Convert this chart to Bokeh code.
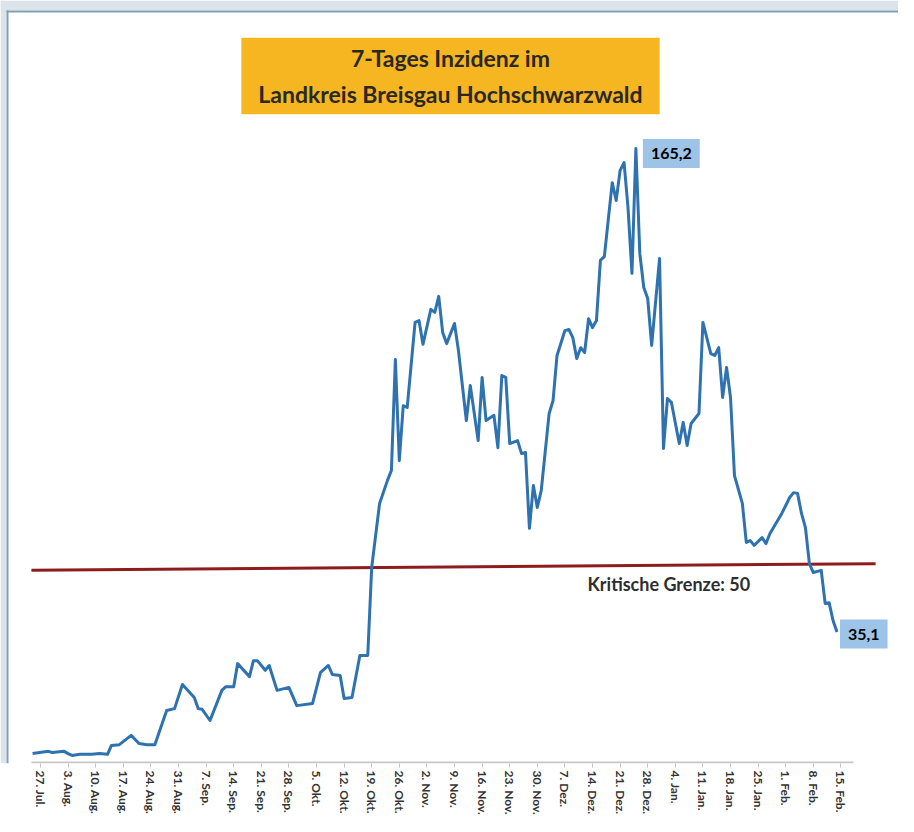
from bokeh.plotting import figure
from bokeh.models import Range1d, FixedTicker, Label, BoxAnnotation
from bokeh.embed import file_html
from bokeh.resources import INLINE

TITLE = "7-Tages Inzidenz im\nLandkreis Breisgau Hochschwarzwald"

TICK_LABELS = ["27. Jul.", "3. Aug.", "10. Aug.", "17. Aug.", "24. Aug.", "31. Aug.",
               "7. Sep.", "14. Sep.", "21. Sep.", "28. Sep.", "5. Okt.", "12. Okt.",
               "19. Okt.", "26. Okt.", "2. Nov.", "9. Nov.", "16. Nov.", "23. Nov.",
               "30. Nov.", "7. Dez.", "14. Dez.", "21. Dez.", "28. Dez.", "4. Jan.",
               "11. Jan.", "18. Jan.", "25. Jan.", "1. Feb.", "8. Feb.", "15. Feb."]

# days since 27 July 2020
DAYS = [-2, 2, 3, 6, 7, 8, 10, 13, 15, 17, 18, 20, 23, 25, 27, 29, 32, 34, 36, 39,
        40, 41, 43, 46, 47, 49, 50, 53, 54, 55, 57, 58, 60, 63, 65, 69, 71, 73, 74, 76,
        77, 79, 81, 83, 84, 86, 88, 89, 90, 91, 92, 93, 95, 96, 97, 99, 100, 101, 102, 103,
        105, 106, 108, 109, 111, 112, 113, 115, 116, 117, 118, 119, 121, 122, 123, 124, 125, 126, 127, 129,
        130, 131, 133, 134, 135, 136, 137, 138, 139, 140, 141, 142, 143, 145, 146, 147, 148, 149, 150, 151,
        152, 153, 154, 155, 157, 158, 159, 160, 162, 163, 164, 165, 167, 168, 170, 171, 172, 173, 174, 175,
        176, 178, 179, 180, 181, 183, 184, 185, 188, 190, 191, 192, 193, 194, 195, 196, 198, 199, 200, 201,
        202]
INZIDENZ = [2.4, 3.0, 2.7, 3.0, 2.4, 1.9, 2.2, 2.2, 2.4, 2.2, 4.6, 4.8, 7.3, 5.1, 4.8, 4.8, 14.0, 14.5, 21.0, 17.5,
            14.5, 14.3, 11.3, 19.4, 20.4, 20.4, 26.6, 23.1, 27.4, 27.4, 24.8, 26.1, 19.4, 20.2, 15.3, 15.9, 24.2, 26.1, 23.7, 23.4,
            17.2, 17.5, 28.8, 28.8, 52.5, 69.7, 75.9, 78.6, 108.4, 81.2, 96.0, 95.5, 118.4, 118.9, 112.5, 121.9, 121.1, 125.4, 115.7, 112.7,
            118.1, 110.8, 92.0, 101.4, 86.6, 103.6, 92.0, 93.4, 84.7, 104.1, 103.6, 85.8, 86.6, 83.1, 83.4, 63.0, 74.5, 68.6, 73.2, 93.9,
            97.4, 109.5, 116.2, 116.5, 114.3, 108.7, 111.6, 110.3, 119.4, 117.0, 118.9, 135.1, 136.1, 156.0, 151.2, 159.3, 161.4, 149.3, 131.6, 165.2,
            136.9, 127.8, 124.8, 112.2, 135.6, 84.5, 97.9, 96.9, 85.8, 91.5, 85.3, 91.2, 93.9, 118.4, 110.0, 109.5, 111.6, 98.2, 106.3, 98.2,
            77.2, 69.7, 59.2, 59.7, 58.4, 60.5, 58.9, 61.6, 67.0, 71.3, 72.6, 72.4, 67.0, 63.2, 53.5, 51.1, 51.7, 42.8, 43.0, 38.2,
            35.1]

GRENZE_TEXT = "Kritische Grenze: 50"
GRENZE_DAYS = [-2.3, 211.8]
GRENZE_VALUES = [51.7, 53.5]
BASELINE_DAYS = [-2.3, 206.2]
BASELINE_VALUES = [0, 0]

TICK_DAYS = [i * 7 for i in range(len(TICK_LABELS))]

FH = 763
p = figure(frame_width=898, frame_height=FH, output_backend="svg", toolbar_location=None,
           x_range=Range1d(-10.14, 217.6), y_range=Range1d(-0.27, 205.0),
           y_axis_location=None, min_border_left=0, min_border_right=0,
           min_border_top=0, min_border_bottom=0)
p.background_fill_color = "white"
p.border_fill_color = "white"
p.outline_line_color = None
p.grid.visible = False

ax = p.xaxis[0]
ax.ticker = FixedTicker(ticks=TICK_DAYS, minor_ticks=[])
ax.major_label_overrides = {d: lab for d, lab in zip(TICK_DAYS, TICK_LABELS)}
ax.major_label_orientation = "vertical"
ax.major_label_text_font = "Lato"
ax.major_label_text_font_style = "bold"
ax.major_label_text_font_size = "12px"
ax.major_label_text_color = "#333333"
ax.major_label_standoff = 3
ax.axis_line_color = None
ax.major_tick_line_color = "#c4c4c4"
ax.major_tick_line_width = 1
ax.major_tick_in = 0
ax.major_tick_out = 4
ax.minor_tick_line_color = None

# page frame decoration
p.add_layout(BoxAnnotation(bottom=FH - 10, bottom_units="screen", fill_color="#dde3ea",
                           fill_alpha=1, line_color=None))
p.add_layout(BoxAnnotation(right=6, right_units="screen", fill_color="#dde3ea",
                           fill_alpha=1, line_color=None))
p.add_layout(BoxAnnotation(bottom=FH - 12, top=FH - 10, bottom_units="screen", top_units="screen",
                           left=6, left_units="screen",
                           fill_color="#7fa1b4", fill_alpha=1, line_color=None))
p.add_layout(BoxAnnotation(left=6, right=8, left_units="screen", right_units="screen",
                           top=FH - 10, top_units="screen",
                           fill_color="#7fa1b4", fill_alpha=1, line_color=None))

p.line(BASELINE_DAYS, BASELINE_VALUES, line_color="#c8c8c8", line_width=2)
p.line(GRENZE_DAYS, GRENZE_VALUES, line_color="#8e1c1c", line_width=3)
p.line(DAYS, INZIDENZ, line_color="#2e72b0", line_width=3, line_join="round")

p.add_layout(Label(x=450, y=FH - 75.5, x_units="screen", y_units="screen", text=TITLE,
                   text_align="center", text_baseline="middle", text_font="Lato",
                   text_font_style="bold", text_font_size="23px", text_color="#2b2822",
                   text_line_height=1.3, background_fill_color="#f5b622", padding=(17, 6)))

p.add_layout(Label(x=587, y=FH - 583, x_units="screen", y_units="screen", text=GRENZE_TEXT,
                   text_align="left", text_baseline="middle", text_font="Lato",
                   text_font_style="bold", text_font_size="18px", text_color="#2e2e2e"))

peak_i = INZIDENZ.index(max(INZIDENZ))
p.add_layout(Label(x=DAYS[peak_i], y=INZIDENZ[peak_i],
                   text=f"{INZIDENZ[peak_i]:.1f}".replace(".", ","),
                   x_offset=7, y_offset=-5, text_align="left", text_baseline="middle",
                   text_font="Lato", text_font_style="bold", text_font_size="16px",
                   text_color="black", background_fill_color="#9dc3e6", padding=(8, 9)))
p.add_layout(Label(x=DAYS[-1], y=INZIDENZ[-1],
                   text=f"{INZIDENZ[-1]:.1f}".replace(".", ","),
                   x_offset=3, y_offset=-2, text_align="left", text_baseline="middle",
                   text_font="Lato", text_font_style="bold", text_font_size="16px",
                   text_color="black", background_fill_color="#9dc3e6", padding=(8, 9)))

open("out.html", "w").write(file_html(p, INLINE))
